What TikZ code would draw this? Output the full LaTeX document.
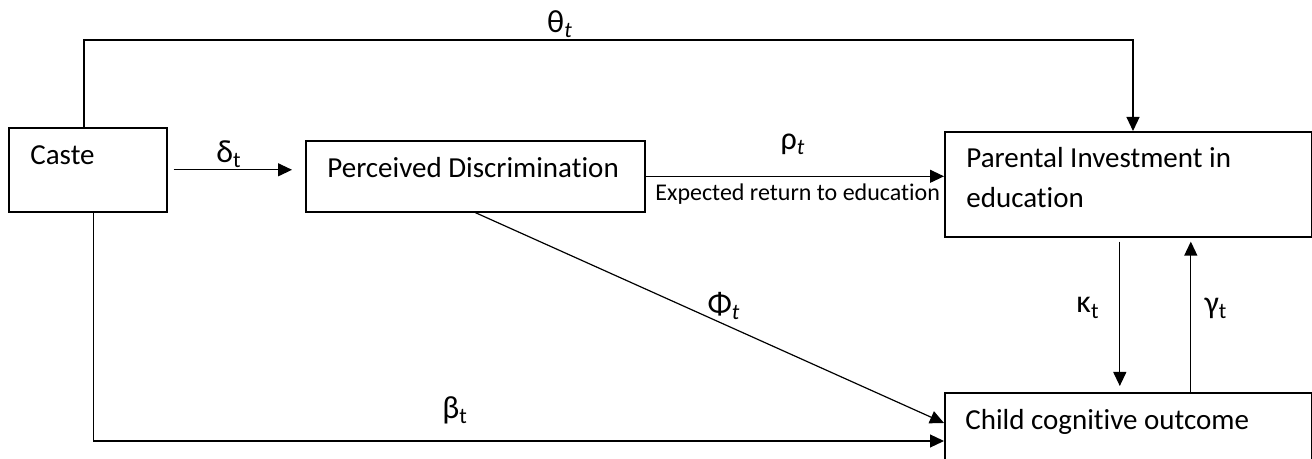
\documentclass[tikz,border=0pt]{standalone}
\usepackage{fontspec}
\setmainfont{Carlito}[Ligatures=NoCommon]
\usetikzlibrary{calc,arrows.meta}

\begin{document}
\begin{tikzpicture}[x=0.5pt, y=-0.5pt,
    box/.style={draw, line width=0.8pt, inner sep=0pt, anchor=north west},
    txt/.style={anchor=base west, inner sep=0pt, font=\fontsize{14.5}{20}\selectfont},
    arr/.style={line width=0.6pt, -{Triangle[length=7pt,width=6.5pt]}},
    greek/.style={inner sep=0pt, font=\fontsize{16}{18}\selectfont}]
    \useasboundingbox (0,0) rectangle (1312,459);
    \clip (0,0) rectangle (1312,459);

    % ---- Boxes ----
    \node[box, minimum width=79pt, minimum height=42pt] (caste) at (8,127) {};
    \node[box, minimum width=169.5pt, minimum height=35.5pt] (pdisc) at (305,140) {};
    \node[box, minimum width=183.5pt, minimum height=52.5pt] (parent) at (944,131) {};
    \node[box, minimum width=183.5pt, minimum height=44pt] (child) at (944,392) {};

    % Box texts
    \node[txt] (castetxt) at (30,165) {Caste};
    \node[txt] (pdisctxt) at (327,178) {Perceived Discrimination};
    \node[txt] (parenttxt) at (966,168) {Parental Investment in};
    \node[txt] (parenttxtb) at (966,208) {education};
    \node[txt] (childtxt) at (965,430) {Child cognitive outcome};

    % ---- Paths ----
    % theta: over the top
    \coordinate (thetaL) at (84,40);
    \coordinate (thetaR) at (1133,40);
    \draw[arr] (caste.north -| thetaL) -- (thetaL) -- (thetaR) -- (thetaR |- parent.north);
    \node[greek] (theta) at (560,24) {θ\textsubscript{\itshape t}};

    % delta
    \draw[arr, shorten <=3pt, shorten >=6.5pt] (caste.east) -- (caste.east -| pdisc.west);
    \node[greek] (delta) at (229,154) {δ\textsubscript{t}};

    % rho
    \draw[arr] (pdisc.east) -- (pdisc.east -| parent.west);
    \node[greek] (rho) at (793,144) {ρ\textsubscript{\itshape t}};
    \node[txt, font=\fontsize{12}{14}\selectfont] (ret) at (655,201) {Expected return to education};

    % phi
    \draw[arr] (pdisc.south) -- ($(child.north west)+(0,31)$);
    \node[greek] (phi) at (724,306) {Φ\textsubscript{\itshape t}};

    % beta
    \draw[arr] ([xshift=3pt]caste.south) |- ($(child.north west)+(0,49)$);
    \node[greek] (beta) at (455,410) {β\textsubscript{t}};

    % kappa and gamma
    \draw[arr, shorten <=2pt, shorten >=3pt] ([xshift=-4.25pt]parent.south) -- ([xshift=-4.25pt]child.north);
    \draw[arr, shorten >=2pt] ([xshift=31.25pt]child.north) -- ([xshift=31.25pt]parent.south);
    \node[greek] (kappa) at (1088,308) {κ\textsubscript{t}};
    \node[greek] (gamma) at (1216,308) {γ\textsubscript{t}};
\end{tikzpicture}
\end{document}
